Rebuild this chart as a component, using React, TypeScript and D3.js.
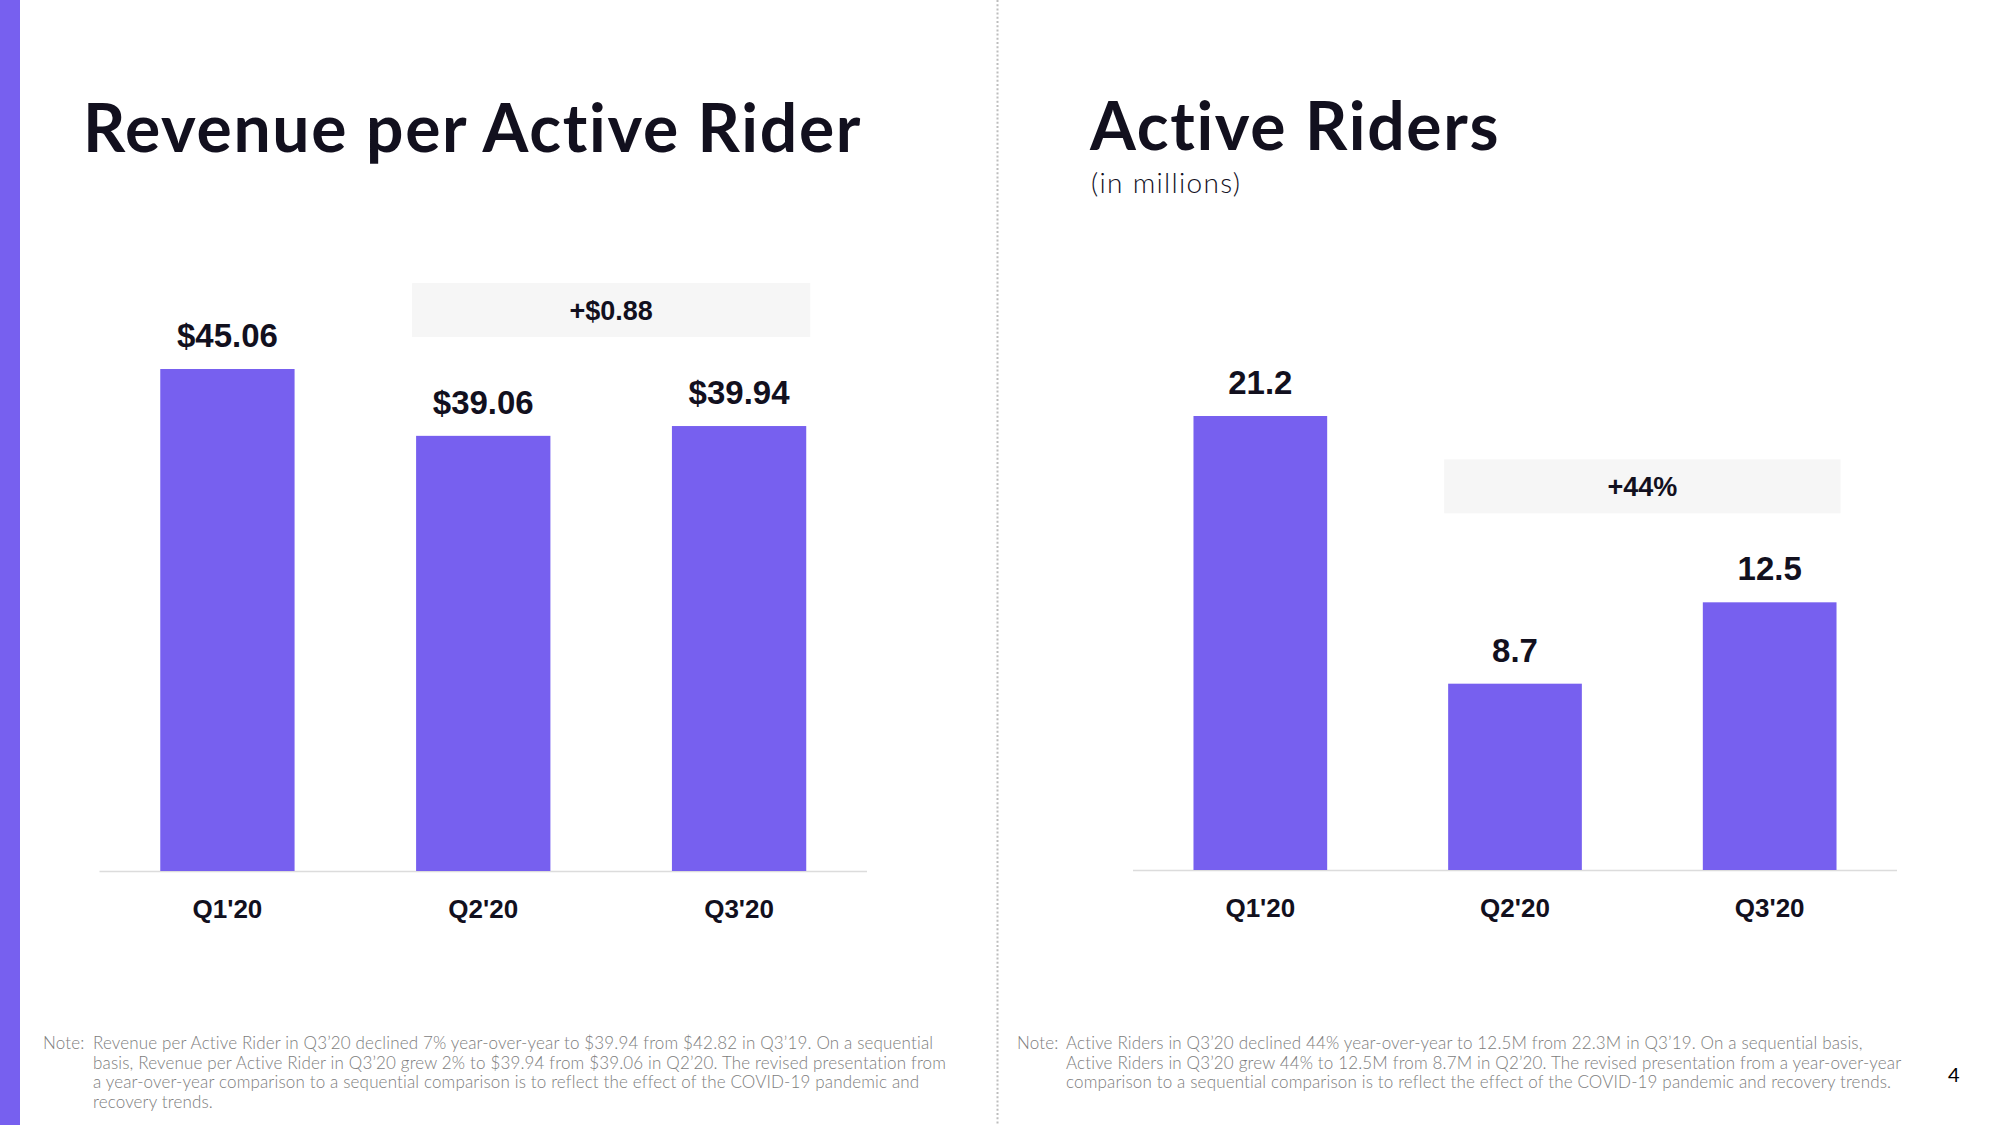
import React from "react";
import * as d3 from "d3";

const categories = ["Q1'20", "Q2'20", "Q3'20"];
const revenuePerRider = [45.06, 39.06, 39.94];
const activeRiders = [21.2, 8.7, 12.5];
const revenueDelta = "+$0.88";
const ridersDelta = "+44%";

const leftNote = [
  "Revenue per Active Rider in Q3’20 declined 7% year-over-year to $39.94 from $42.82 in Q3’19. On a sequential",
  "basis, Revenue per Active Rider in Q3’20 grew 2% to $39.94 from $39.06 in Q2’20. The revised presentation from",
  "a year-over-year comparison to a sequential comparison is to reflect the effect of the COVID-19 pandemic and",
  "recovery trends.",
];
const rightNote = [
  "Active Riders in Q3’20 declined 44% year-over-year to 12.5M from 22.3M in Q3’19. On a sequential basis,",
  "Active Riders in Q3’20 grew 44% to 12.5M from 8.7M in Q2’20. The revised presentation from a year-over-year",
  "comparison to a sequential comparison is to reflect the effect of the COVID-19 pandemic and recovery trends.",
];

const PURPLE = "#7760EF";
const INK = "#12101E";
const NOTE = "#7d7d7d";
const TITLE_FONT = "Lato, 'Noto Sans', sans-serif";
const NUM_FONT = "'Liberation Sans', Arial, sans-serif";

type PanelProps = {
  values: number[];
  fmt: (v: number) => string;
  delta: string;
  x0: number;
  x1: number;
  baseY: number;
  topY: number;
};

function BarPanel({ values, fmt, delta, x0, x1, baseY, topY }: PanelProps) {
  const x = d3
    .scaleBand<string>()
    .domain(categories)
    .range([x0, x1])
    .paddingInner(0.475)
    .paddingOuter(0.2375);
  const y = d3
    .scaleLinear()
    .domain([0, d3.max(values) as number])
    .range([baseY, topY]);
  const bw = x.bandwidth();
  const boxX0 = (x(categories[1]) as number) - 4;
  const boxX1 = (x(categories[2]) as number) + bw + 4;
  const boxBottom = y(Math.max(values[1], values[2])) - 89;
  const boxH = 54;
  return (
    <g>
      <line x1={x0} x2={x1} y1={baseY + 0.5} y2={baseY + 0.5} stroke="#dcdcdc" strokeWidth={1.5} />
      {values.map((v, i) => (
        <g key={i}>
          <rect x={x(categories[i])} y={y(v)} width={bw} height={baseY - y(v)} fill={PURPLE} />
          <text
            x={(x(categories[i]) as number) + bw / 2}
            y={y(v) - 22}
            textAnchor="middle"
            fontFamily={NUM_FONT}
            fontWeight={700}
            fontSize={33}
            fill={INK}
          >
            {fmt(v)}
          </text>
          <text
            x={(x(categories[i]) as number) + bw / 2}
            y={baseY + 47}
            textAnchor="middle"
            fontFamily={NUM_FONT}
            fontWeight={700}
            fontSize={26}
            fill={INK}
          >
            {categories[i]}
          </text>
        </g>
      ))}
      <rect x={boxX0} y={boxBottom - boxH} width={boxX1 - boxX0} height={boxH} fill="#f6f6f6" />
      <text
        x={(boxX0 + boxX1) / 2}
        y={boxBottom - boxH / 2 + 10}
        textAnchor="middle"
        fontFamily={NUM_FONT}
        fontWeight={700}
        fontSize={27}
        fill={INK}
      >
        {delta}
      </text>
    </g>
  );
}

function Note({ lines, x, indentX, y }: { lines: string[]; x: number; indentX: number; y: number }) {
  return (
    <g fontFamily={TITLE_FONT} fontWeight={300} fontSize={17} fill={NOTE} letterSpacing={0.15}>
      <text x={x} y={y}>Note:</text>
      {lines.map((l, i) => (
        <text key={i} x={indentX} y={y + i * 19.6}>
          {l}
        </text>
      ))}
    </g>
  );
}

export default function App() {
  return (
    <svg
      width={2000}
      height={1125}
      style={{ position: "absolute", left: 0, top: 0, background: "#fff" }}
    >
      <rect x={0} y={0} width={2000} height={1125} fill="#fff" />
      <rect x={0} y={0} width={20} height={1125} fill={PURPLE} />
      <line x1={997.5} x2={997.5} y1={0} y2={1125} stroke="#bdbdbd" strokeWidth={2} strokeDasharray="2 2.2" />

      <text x={83} y={152} fontFamily={TITLE_FONT} fontWeight={700} fontSize={66} letterSpacing={1.7} fill={INK}>
        Revenue per Active Rider
      </text>
      <text x={1090} y={150} fontFamily={TITLE_FONT} fontWeight={700} fontSize={66} letterSpacing={1.7} fill={INK}>
        Active Riders
      </text>
      <text x={1091} y={193} fontFamily={TITLE_FONT} fontWeight={300} fontSize={28} letterSpacing={1.3} fill={INK}>
        (in millions)
      </text>

      <BarPanel
        values={revenuePerRider}
        fmt={(v) => d3.format("$.2f")(v)}
        delta={revenueDelta}
        x0={99.5}
        x1={867}
        baseY={871}
        topY={369}
      />
      <BarPanel
        values={activeRiders}
        fmt={(v) => d3.format(".1f")(v)}
        delta={ridersDelta}
        x0={1133}
        x1={1897}
        baseY={870}
        topY={416}
      />

      <Note lines={leftNote} x={43} indentX={93} y={1049} />
      <Note lines={rightNote} x={1017} indentX={1066} y={1049} />

      <text x={1948} y={1082} fontFamily={TITLE_FONT} fontSize={20} fill="#000">
        4
      </text>
    </svg>
  );
}
